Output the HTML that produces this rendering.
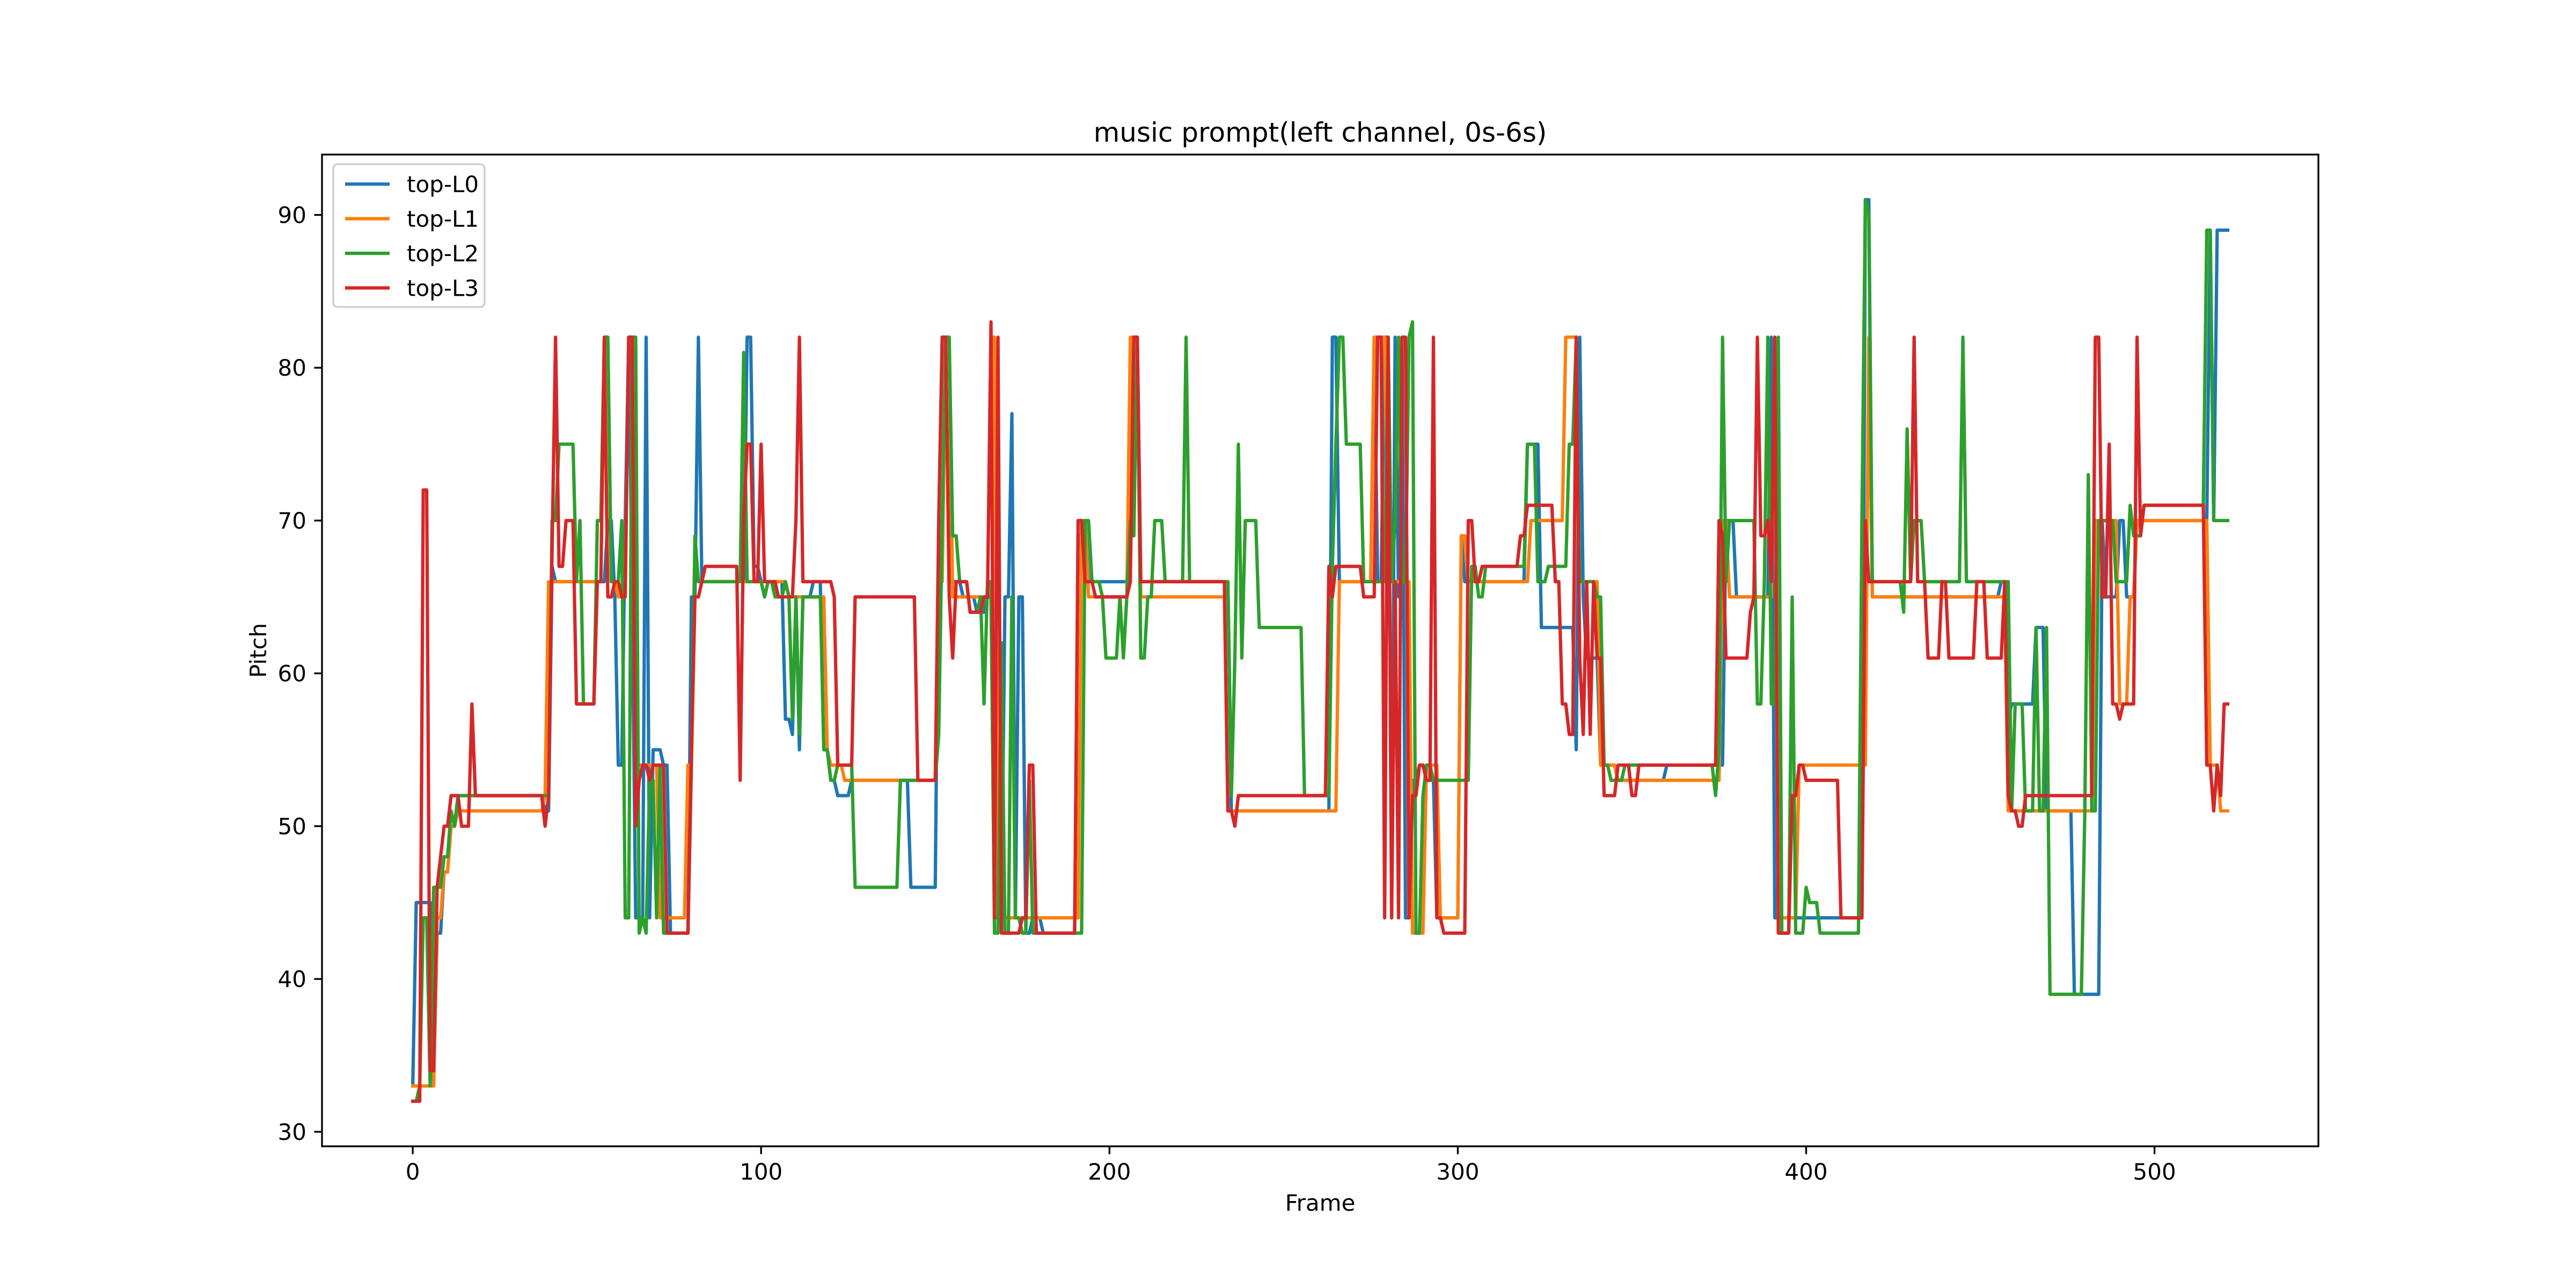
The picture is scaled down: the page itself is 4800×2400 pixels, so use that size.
<!DOCTYPE html>
<html><head><meta charset="utf-8"><style>
html,body{margin:0;padding:0;background:#fff;}
svg{display:block;font-family:"DejaVu Sans","Liberation Sans",sans-serif;}
</style></head><body>
<svg id="chart" width="4800" height="2400" viewBox="0 0 4800 2400" xmlns="http://www.w3.org/2000/svg">
<rect x="0" y="0" width="4800" height="2400" fill="#fff"/>
<text x="2460" y="264" font-size="50" text-anchor="middle">music prompt(left channel, 0s-6s)</text>
<g id="series"></g>
<g id="axes"></g>
<text x="2460" y="2256" font-size="42" text-anchor="middle">Frame</text>
<text x="496" y="1212" font-size="42" text-anchor="middle" transform="rotate(-90 496 1212)">Pitch</text>
<g id="legend"></g>
</svg>
<script>
const seriesNames = ["top-L0","top-L1","top-L2","top-L3"];
const seriesColors = ["#1f77b4","#ff7f0e","#2ca02c","#d62728"];
const xTicks = [0,100,200,300,400,500];
const yTicks = [30,40,50,60,70,80,90];
const lastFrame = 521;
// change points: [frame, pitch] — pitch holds until next change point
const l0Changes = [[0,33],[1,45],[6,33],[7,43],[9,47],[11,50],[13,52],[38,51],[40,67],[41,66],[56,70],[58,65],[59,54],[61,70],[62,82],[63,65],[64,44],[67,82],[68,44],[69,55],[72,54],[74,43],[80,65],[82,82],[83,66],[96,82],[98,67],[100,66],[107,57],[109,56],[110,65],[111,55],[112,65],[115,66],[118,55],[120,53],[122,52],[126,53],[143,46],[151,70],[152,82],[154,66],[158,65],[162,64],[165,65],[167,44],[170,65],[172,77],[173,44],[174,65],[176,43],[178,44],[181,43],[191,69],[193,70],[194,66],[206,70],[207,82],[209,66],[235,51],[264,82],[266,66],[276,82],[277,66],[279,82],[281,44],[282,82],[283,65],[284,82],[285,44],[287,53],[289,54],[291,53],[294,44],[301,69],[302,66],[320,75],[324,63],[330,63],[334,55],[335,82],[336,65],[337,61],[341,54],[346,53],[360,54],[375,54],[377,70],[380,65],[390,82],[391,44],[416,44],[417,91],[419,65],[456,66],[458,57],[459,58],[466,63],[469,51],[477,39],[485,70],[486,65],[490,70],[492,65],[495,70],[515,70],[516,89],[517,70],[518,89]];
const l1Changes = [[0,33],[7,44],[9,47],[11,50],[13,51],[38,52],[39,66],[55,82],[57,66],[59,65],[61,66],[62,82],[64,54],[71,44],[79,54],[81,65],[83,66],[108,65],[119,55],[120,54],[124,53],[151,66],[153,82],[155,65],[166,82],[168,44],[192,70],[194,65],[206,82],[209,65],[234,51],[266,66],[276,82],[280,66],[287,43],[291,54],[295,44],[301,69],[303,66],[321,70],[331,82],[335,66],[341,54],[346,53],[376,70],[378,65],[391,82],[392,44],[398,54],[418,82],[419,65],[458,51],[483,70],[490,58],[493,65],[495,70],[516,54],[519,51]];
const l2Changes = [[0,32],[2,33],[3,44],[5,33],[6,46],[9,48],[11,51],[12,50],[13,52],[40,70],[42,75],[47,66],[48,70],[49,58],[53,70],[55,82],[57,66],[60,70],[61,44],[63,82],[65,43],[66,44],[67,43],[68,53],[70,44],[71,54],[72,43],[80,54],[81,69],[82,66],[95,81],[96,66],[101,65],[102,66],[104,65],[107,66],[108,65],[109,57],[110,65],[111,56],[112,65],[118,55],[120,53],[122,54],[127,46],[140,53],[151,56],[152,70],[153,82],[155,69],[157,66],[160,64],[163,65],[164,58],[165,66],[167,43],[169,62],[170,43],[172,65],[173,44],[175,43],[177,53],[178,43],[193,70],[195,66],[198,65],[199,61],[203,65],[204,61],[205,65],[206,70],[207,69],[208,82],[209,61],[211,65],[213,70],[216,66],[222,82],[223,66],[235,52],[236,61],[237,75],[238,61],[239,70],[243,63],[256,52],[264,67],[265,75],[266,82],[268,75],[273,66],[280,82],[281,66],[282,70],[283,82],[284,66],[286,82],[287,83],[288,43],[290,52],[291,54],[293,53],[304,67],[306,65],[308,67],[320,75],[323,66],[326,67],[332,75],[334,82],[335,66],[340,65],[342,54],[344,53],[348,54],[374,52],[375,55],[376,82],[377,66],[378,70],[386,58],[388,66],[389,82],[390,58],[392,82],[393,43],[396,65],[397,43],[400,46],[401,45],[404,43],[416,70],[417,91],[418,90],[419,66],[428,64],[429,76],[430,66],[431,70],[434,66],[445,82],[446,66],[459,51],[460,58],[463,51],[466,63],[467,51],[469,63],[470,39],[480,51],[481,73],[482,51],[484,70],[489,66],[493,71],[494,69],[497,71],[515,89],[517,70]];
const l3Changes = [[0,32],[3,72],[5,34],[7,46],[8,48],[9,50],[11,52],[14,50],[17,58],[18,52],[38,50],[39,52],[40,68],[41,82],[42,67],[44,70],[47,58],[53,66],[55,82],[56,65],[58,66],[60,65],[62,82],[64,50],[65,53],[66,54],[68,53],[69,54],[73,43],[80,55],[81,65],[83,66],[84,67],[94,53],[95,70],[96,75],[98,66],[100,75],[101,66],[105,65],[110,70],[111,82],[112,66],[121,65],[122,54],[127,65],[145,53],[151,70],[152,82],[154,65],[155,61],[156,66],[160,64],[164,65],[166,83],[167,44],[168,82],[169,43],[175,44],[177,54],[179,43],[191,70],[193,66],[196,65],[206,66],[207,82],[209,66],[234,51],[236,50],[237,52],[263,67],[264,65],[265,67],[273,65],[277,82],[279,44],[280,82],[281,44],[282,66],[283,44],[284,82],[286,44],[287,52],[289,54],[291,53],[293,82],[294,44],[296,43],[303,70],[305,66],[307,67],[318,69],[320,71],[325,71],[328,66],[330,58],[332,56],[334,82],[335,61],[336,56],[337,66],[338,56],[339,66],[340,61],[342,52],[346,54],[350,52],[352,54],[375,70],[376,69],[377,61],[384,64],[385,65],[386,82],[387,69],[389,70],[390,66],[391,82],[392,43],[396,52],[398,54],[400,53],[410,44],[417,70],[418,66],[431,82],[432,66],[435,61],[439,66],[441,61],[449,66],[452,61],[457,66],[458,52],[459,51],[461,50],[463,52],[483,82],[485,65],[487,75],[488,58],[490,57],[491,58],[495,82],[496,69],[497,71],[515,54],[517,51],[518,54],[519,52],[520,58]];
const allChanges = [l0Changes,l1Changes,l2Changes,l3Changes];

const NS = "http://www.w3.org/2000/svg";
const plotL = 600, plotR = 4320, plotT = 288, plotB = 2136;
function expand(changes){
  const vals = [];
  for(let i=0;i<changes.length;i++){
    const end = i+1<changes.length ? changes[i+1][0] : lastFrame+1;
    for(let f=changes[i][0]; f<end; f++) vals.push(changes[i][1]);
  }
  return vals;
}
const seriesValues = allChanges.map(expand);
let yMin = Infinity, yMax = -Infinity;
seriesValues.forEach(v=>v.forEach(p=>{ if(p<yMin) yMin=p; if(p>yMax) yMax=p; }));
const xPad = lastFrame*0.05, yPad = (yMax-yMin)*0.05;
const x0 = -xPad, x1 = lastFrame+xPad, y0 = yMin-yPad, y1 = yMax+yPad;
function xScale(f){ return plotL + (f-x0)/(x1-x0)*(plotR-plotL); }
function yScale(p){ return plotB - (p-y0)/(y1-y0)*(plotB-plotT); }

const sg = document.getElementById('series');
seriesValues.forEach((vals,si)=>{
  const pts = vals.map((p,f)=>xScale(f).toFixed(1)+","+yScale(p).toFixed(1)).join(" ");
  const pl = document.createElementNS(NS,'polyline');
  pl.setAttribute('points',pts);
  pl.setAttribute('fill','none');
  pl.setAttribute('stroke',seriesColors[si]);
  pl.setAttribute('stroke-width','6.25');
  pl.setAttribute('stroke-linejoin','round');
  pl.setAttribute('stroke-linecap','square');
  
  
  sg.appendChild(pl);
});

const ag = document.getElementById('axes');
const frame = document.createElementNS(NS,'rect');
frame.setAttribute('x',plotL);frame.setAttribute('y',plotT);
frame.setAttribute('width',plotR-plotL);frame.setAttribute('height',plotB-plotT);
frame.setAttribute('fill','none');frame.setAttribute('stroke','#000');frame.setAttribute('stroke-width','3.3');


ag.appendChild(frame);
xTicks.forEach(t=>{
  const x = xScale(t);
  const ln = document.createElementNS(NS,'line');
  ln.setAttribute('x1',x);ln.setAttribute('x2',x);ln.setAttribute('y1',plotB);ln.setAttribute('y2',plotB+14.6);
  ln.setAttribute('stroke','#000');ln.setAttribute('stroke-width','3.3');
  
  
  ag.appendChild(ln);
  const tx = document.createElementNS(NS,'text');
  tx.setAttribute('x',x);tx.setAttribute('y',plotB+62);tx.setAttribute('font-size','42');tx.setAttribute('text-anchor','middle');
  tx.textContent = t;
  
  
  ag.appendChild(tx);
});
yTicks.forEach(t=>{
  const y = yScale(t);
  const ln = document.createElementNS(NS,'line');
  ln.setAttribute('x1',plotL-14.6);ln.setAttribute('x2',plotL);ln.setAttribute('y1',y);ln.setAttribute('y2',y);
  ln.setAttribute('stroke','#000');ln.setAttribute('stroke-width','3.3');
  
  
  ag.appendChild(ln);
  const tx = document.createElementNS(NS,'text');
  tx.setAttribute('x',plotL-29);tx.setAttribute('y',y+15);tx.setAttribute('font-size','42');tx.setAttribute('text-anchor','end');
  tx.textContent = t;
  
  
  ag.appendChild(tx);
});

const lg = document.getElementById('legend');
const box = document.createElementNS(NS,'rect');
box.setAttribute('x',621);box.setAttribute('y',306);box.setAttribute('width',282);box.setAttribute('height',266);
box.setAttribute('rx',8);box.setAttribute('fill','#fff');box.setAttribute('fill-opacity','0.8');
box.setAttribute('stroke','#ccc');box.setAttribute('stroke-width','3.3');


lg.appendChild(box);
seriesNames.forEach((nm,i)=>{
  const y = 343 + i*64.5;
  const ln = document.createElementNS(NS,'line');
  ln.setAttribute('x1',643);ln.setAttribute('x2',726);ln.setAttribute('y1',y);ln.setAttribute('y2',y);
  ln.setAttribute('stroke',seriesColors[i]);ln.setAttribute('stroke-width','6.25');
  
  
  lg.appendChild(ln);
  const tx = document.createElementNS(NS,'text');
  tx.setAttribute('x',758);tx.setAttribute('y',y+15);tx.setAttribute('font-size','42');
  tx.textContent = nm;
  
  
  lg.appendChild(tx);
});
</script>
</body></html>
